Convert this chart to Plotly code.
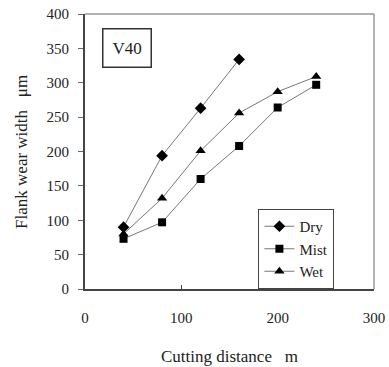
import plotly.graph_objects as go

x_dry = [40, 80, 120, 160]
dry = [90, 194, 263, 334]
x_mist = [40, 80, 120, 160, 200, 240]
mist = [73, 97, 160, 208, 264, 297]
x_wet = [40, 80, 120, 160, 200, 240]
wet = [80, 132, 201, 256, 287, 309]

font = "'Times New Roman', 'Liberation Serif', 'DejaVu Serif', serif"
fig = go.Figure()
fig.add_trace(go.Scatter(x=x_dry, y=dry, name="Dry", mode="lines+markers",
                         line=dict(color="#777777", width=1),
                         marker=dict(symbol="diamond", size=9, color="black")))
fig.add_trace(go.Scatter(x=x_mist, y=mist, name="Mist", mode="lines+markers",
                         line=dict(color="#777777", width=1),
                         marker=dict(symbol="square", size=8, color="black")))
fig.add_trace(go.Scatter(x=x_wet, y=wet, name="Wet", mode="lines+markers",
                         line=dict(color="#777777", width=1),
                         marker=dict(symbol="triangle-up", size=9, color="black")))

fig.update_layout(
    width=389, height=367,
    margin=dict(l=85, r=15, t=14, b=78, autoexpand=False),
    paper_bgcolor="white", plot_bgcolor="white",
    font=dict(family=font, size=15, color="#222222"),
    showlegend=True,
    legend=dict(x=0.6, y=0, xanchor="left", yanchor="bottom",
                bordercolor="#444444", borderwidth=1, bgcolor="white",
                font=dict(family=font, size=15), tracegroupgap=0, itemwidth=30,
                traceorder="normal"),
    xaxis=dict(range=[0, 300], tickvals=[0, 100, 200, 300],
               ticks="inside", ticklen=4, tickcolor="#444444",
               showline=True, linecolor="#444444", linewidth=2, mirror=False,
               showgrid=False, zeroline=False, ticklabelstandoff=14,
               automargin=False,
               tickfont=dict(family=font, size=15)),
    yaxis=dict(range=[0, 400], tickvals=[0, 50, 100, 150, 200, 250, 300, 350, 400],
               ticks="outside", ticklen=5, tickcolor="#666666",
               showline=True, linecolor="#444444", linewidth=2,
               showgrid=False, zeroline=False, ticklabelstandoff=6,
               automargin=False,
               tickfont=dict(family=font, size=15)),
    shapes=[
        dict(type="line", xref="paper", yref="paper", x0=0, x1=1, y0=1, y1=1,
             line=dict(color="#999999", width=1.5)),
        dict(type="line", xref="paper", yref="paper", x0=1, x1=1, y0=0, y1=1,
             line=dict(color="#999999", width=1.5)),
    ],
    annotations=[
        dict(text="V40", xref="paper", yref="paper", x=0.145, y=0.876,
             xanchor="center", yanchor="middle", showarrow=False,
             font=dict(family=font, size=17), bordercolor="#333333",
             borderwidth=1.5, borderpad=9, bgcolor="white"),
        dict(text="Cutting distance   m", xref="paper", yref="paper",
             x=0.5, y=-0.245, xanchor="center", yanchor="middle", showarrow=False,
             font=dict(family=font, size=17)),
        dict(text="Flank wear width   μm", xref="paper", yref="paper",
             x=-0.22, y=0.5, xanchor="center", yanchor="middle", showarrow=False,
             textangle=-90, font=dict(family=font, size=17)),
    ],
)
fig.write_html("out.html")
